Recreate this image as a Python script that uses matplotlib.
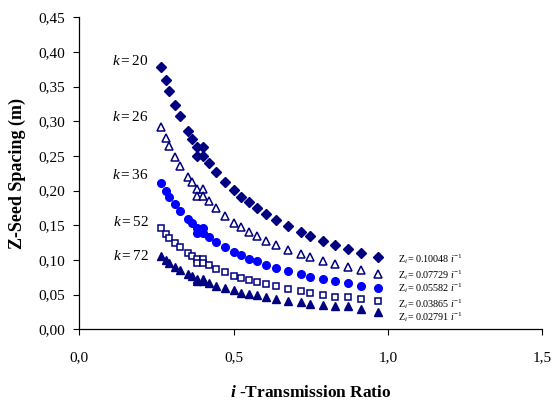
import matplotlib
matplotlib.use("Agg")
import matplotlib.pyplot as plt

plt.rcParams['font.family'] = ['Liberation Serif', 'DejaVu Serif']
plt.rcParams['mathtext.fontset'] = 'custom'
plt.rcParams['mathtext.rm'] = 'Liberation Serif'
plt.rcParams['mathtext.it'] = 'Liberation Serif:italic'
plt.rcParams['mathtext.bf'] = 'Liberation Serif:bold'
plt.rcParams['mathtext.bfit'] = 'Liberation Serif:italic:bold'

# Transmission ratio i (shared by all series)
ratio_i = [0.265, 0.280, 0.292, 0.311, 0.327, 0.351, 0.365, 0.382, 0.402, 0.382,
           0.402, 0.419, 0.443, 0.471, 0.501, 0.525, 0.549, 0.575, 0.606, 0.638,
           0.676, 0.718, 0.749, 0.788, 0.827, 0.870, 0.914, 0.969]

z_k20 = [0.379, 0.359, 0.344, 0.323, 0.307, 0.286, 0.275, 0.263, 0.263, 0.250,
         0.250, 0.240, 0.227, 0.213, 0.201, 0.191, 0.183, 0.175, 0.166, 0.158,
         0.149, 0.140, 0.134, 0.128, 0.122, 0.116, 0.110, 0.104]
z_k26 = [0.292, 0.276, 0.265, 0.249, 0.236, 0.220, 0.212, 0.202, 0.202, 0.192,
         0.192, 0.185, 0.175, 0.164, 0.154, 0.147, 0.141, 0.135, 0.128, 0.122,
         0.115, 0.108, 0.104, 0.099, 0.094, 0.090, 0.086, 0.080]
z_k36 = [0.211, 0.199, 0.191, 0.180, 0.171, 0.159, 0.153, 0.146, 0.146, 0.139,
         0.139, 0.133, 0.126, 0.119, 0.112, 0.107, 0.102, 0.098, 0.093, 0.089,
         0.084, 0.079, 0.076, 0.072, 0.069, 0.067, 0.062, 0.060]
z_k52 = [0.146, 0.138, 0.132, 0.124, 0.118, 0.110, 0.106, 0.101, 0.101, 0.096,
         0.096, 0.092, 0.087, 0.082, 0.077, 0.074, 0.071, 0.068, 0.065, 0.062,
         0.058, 0.055, 0.053, 0.050, 0.047, 0.046, 0.043, 0.041]
z_k72 = [0.105, 0.100, 0.096, 0.090, 0.085, 0.080, 0.077, 0.073, 0.073, 0.069,
         0.069, 0.067, 0.063, 0.059, 0.056, 0.053, 0.051, 0.049, 0.046, 0.044,
         0.041, 0.039, 0.037, 0.035, 0.034, 0.033, 0.029, 0.025]

k_labels = ['20', '26', '36', '52', '72']
fit_coefs = ['0.10048', '0.07729', '0.05582', '0.03865', '0.02791']

x_ticks = [0.0, 0.5, 1.0, 1.5]
x_tick_labels = ['0,0', '0,5', '1,0', '1,5']
y_ticks = [0.00, 0.05, 0.10, 0.15, 0.20, 0.25, 0.30, 0.35, 0.40, 0.45]
y_tick_labels = ['0,00', '0,05', '0,10', '0,15', '0,20', '0,25', '0,30', '0,35', '0,40', '0,45']

navy = '#000080'
blue = '#0000FF'

fig = plt.figure(figsize=(5.55, 4.03), dpi=100)
ax = fig.add_axes([0.143, 0.183, 0.834, 0.774])

ax.plot(ratio_i, z_k20, linestyle='none', marker='D', ms=4.6, color=navy, mec=navy)
ax.plot(ratio_i, z_k26, linestyle='none', marker='^', ms=6.0, mfc='white', mec=navy, mew=1.1)
ax.plot(ratio_i, z_k36, linestyle='none', marker='o', ms=5.5, color=blue, mec=blue)
ax.plot(ratio_i, z_k52, linestyle='none', marker='s', ms=5.0, mfc='white', mec=navy, mew=1.1)
ax.plot(ratio_i, z_k72, linestyle='none', marker='^', ms=6.0, color=navy, mec=navy)

# k labels at the left of each series
series_first = [z_k20[0], z_k26[0], z_k36[0], z_k52[0], z_k72[0]]
label_y_off = [0.008, 0.014, 0.012, 0.009, 0.001]
for lab, y0, dy in zip(k_labels, series_first, label_y_off):
    ax.text(0.225, y0 + dy, r'$\mathit{k}\mathrm{=%s}$' % lab, ha='right', va='center',
            fontsize=11)

# fit formulas at the right
fit_y = [0.101, 0.078, 0.060, 0.037, 0.018]
for coef, yy in zip(fit_coefs, fit_y):
    ax.text(1.033, yy, r'$\mathrm{Z}_{\mathit{i}}\mathrm{=%s}\ \mathit{i}^{\mathrm{-1}}$' % coef,
            ha='left', va='center', fontsize=7.3)

ax.set_xlim(0, 1.5)
ax.set_ylim(0, 0.45)
ax.set_xticks(x_ticks)
ax.set_xticklabels(x_tick_labels)
ax.set_yticks(y_ticks)
ax.set_yticklabels(y_tick_labels)
ax.tick_params(direction='out', length=4, width=0.8, labelsize=11, colors='black', pad=6)
ax.tick_params(axis='x', pad=12)
for s in ['top', 'right']:
    ax.spines[s].set_visible(False)
for s in ['left', 'bottom']:
    ax.spines[s].set_linewidth(0.9)

ax.set_ylabel('Z-Seed Spacing (m)', fontsize=13, fontweight='bold', labelpad=9)
ax.set_xlabel(r'$\mathbfit{i}$ -Transmission Ratio', fontsize=12.5, fontweight='bold', labelpad=15)

fig.savefig('out.png', dpi=100)
